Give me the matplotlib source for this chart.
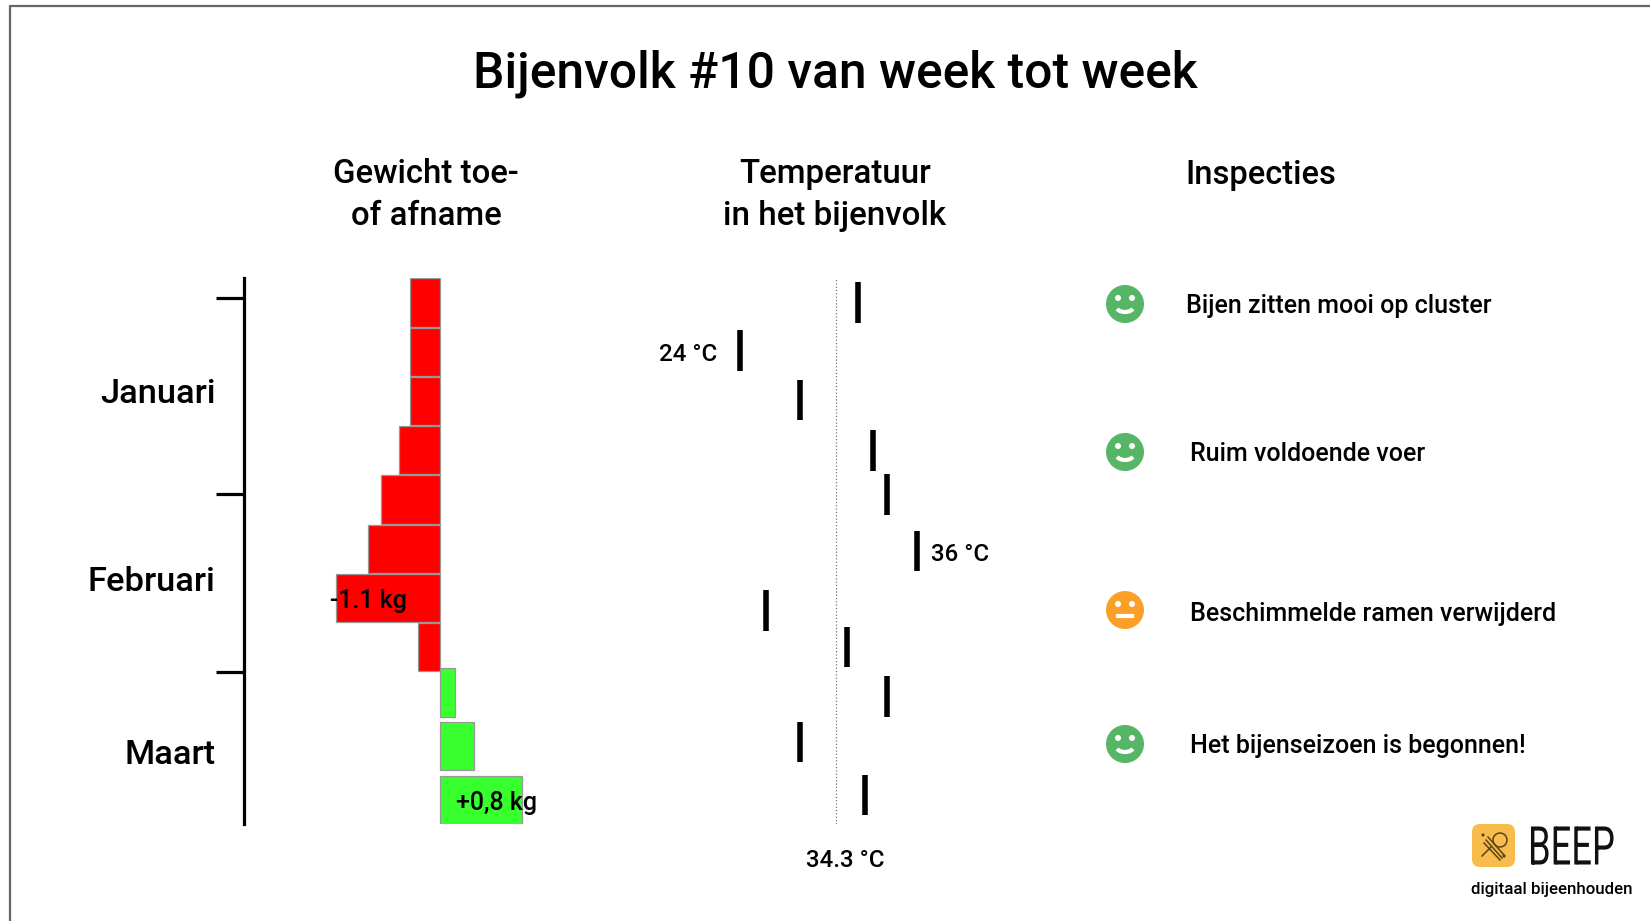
import matplotlib
matplotlib.use("Agg")
import matplotlib.pyplot as plt
from matplotlib.patches import Circle, Arc, FancyBboxPatch
from matplotlib.patheffects import AbstractPathEffect
from matplotlib.transforms import Affine2D

plt.rcParams['font.family'] = ['Roboto', 'DejaVu Sans']

W, H = 1650, 921

# gewicht per week (kg)
weight_rows = [0, 1, 2, 3, 4, 5, 6, 7, 7.92, 9.0, 10.1]
weight_kg = [-0.31, -0.31, -0.31, -0.43, -0.62, -0.76, -1.1, -0.23, 0.16, 0.36, 0.87]

# temperatuur per week (graden)
temp_rows = [0, 0.97, 1.98, 3.0, 3.9, 5.05, 6.25, 7.0, 8.0, 8.92, 10.0]
temp_c = [32.0, 24.0, 28.07, 33.0, 34.0, 36.0, 25.8, 31.25, 34.0, 28.07, 32.5]
temp_mid = 30.5

months = ['Januari', 'Februari', 'Maart']
month_rows = [1.78, 5.61, 9.11]
month_edges = [-0.1, 3.88, 7.51]

inspections = ['Bijen zitten mooi op cluster', 'Ruim voldoende voer',
               'Beschimmelde ramen verwijderd', 'Het bijenseizoen is begonnen!']
moods = ['good', 'good', 'ok', 'good']
smiley_y = [304, 452, 610, 744]
insp_y = [305.5, 453.5, 613.5, 745.5]
insp_x = [1186, 1190, 1190, 1190]


class Squeeze(AbstractPathEffect):
    # smaller maken van de tekst rond het midden, voor het BEEP logo
    def __init__(self, sx):
        super().__init__()
        self.sx = sx

    def draw_path(self, renderer, gc, tpath, affine, rgbFace=None):
        box = tpath.get_extents(affine)
        xc = (box.x0 + box.x1) / 2
        t = affine + Affine2D().translate(-xc, 0).scale(self.sx, 1).translate(xc, 0)
        renderer.draw_path(gc, tpath, t, rgbFace)


def axes_px(x0, y0, x1, y1):
    return fig.add_axes([x0 / W, 1 - y1 / H, (x1 - x0) / W, (y1 - y0) / H])


fig = plt.figure(figsize=(W / 100, H / 100), dpi=100, facecolor='white')

# overlay in pixels voor titels, smileys en logo
bg = fig.add_axes([0, 0, 1, 1])
bg.set_xlim(0, W)
bg.set_ylim(H, 0)
bg.axis('off')
bg.plot([9.5, 9.5, W], [H, 6, 6], color='#666666', lw=1.6)

bg.text(835, 74, 'Bijenvolk #10 van week tot week', fontsize=35.8, fontweight='medium',
        ha='center', va='center', color='black')
bg.text(426, 195, 'Gewicht toe-\nof afname', fontsize=23.7, ha='center', va='center',
        linespacing=1.38, fontweight='medium')
bg.text(835, 195, 'Temperatuur\nin het bijenvolk', fontsize=23.9, ha='center', va='center',
        linespacing=1.38, fontweight='medium')
bg.text(1185, 175, 'Inspecties', fontsize=23.5, ha='left', va='center', fontweight='medium')

for label, mood, y, ty, x in zip(inspections, moods, smiley_y, insp_y, insp_x):
    col = '#57B665' if mood == 'good' else '#FAA027'
    bg.add_patch(Circle((1125, y), 19, color=col, lw=0))
    bg.add_patch(Circle((1118, y - 6), 3, color='white', lw=0))
    bg.add_patch(Circle((1132, y - 6), 3, color='white', lw=0))
    if mood == 'good':
        bg.add_patch(Arc((1125, y + 2), 18, 12, theta1=20, theta2=160, color='white', lw=3))
    else:
        bg.plot([1118, 1132], [y + 6, y + 6], color='white', lw=3)
    bg.text(x, ty, label, fontsize=18, ha='left', va='center', fontweight='medium')

# logo
brown = '#5A4518'
bg.add_patch(FancyBboxPatch((1472, 824), 43, 43, boxstyle='round,pad=0,rounding_size=8',
                            color='#F7BC4B', lw=0))
bg.add_patch(Circle((1500, 840), 7, fill=False, ec=brown, lw=1.1))
bg.plot([1484, 1500], [843, 860], color=brown, lw=1.1)
bg.plot([1486, 1502], [840, 858], color=brown, lw=1.1)
bg.plot([1488, 1504], [837, 855], color=brown, lw=1.1)
bg.plot([1482, 1491], [856, 847], color=brown, lw=1.1)
bg.add_patch(Circle((1483, 835), 1.6, color=brown, lw=0))
bg.add_patch(Circle((1504, 856), 1.6, color=brown, lw=0))
bg.text(1571, 850, 'BEEP', fontsize=38.5, ha='center', va='center', fontweight='normal',
        color='#111111', path_effects=[Squeeze(0.68)])
bg.text(1471, 889, 'digitaal bijeenhouden', fontsize=12.2, ha='left', va='center', fontweight='medium')

# gewicht, linkerkant as is de maandenas
ax = axes_px(244, 278, 600, 824)
ax.patch.set_alpha(0)
ax.barh(weight_rows, weight_kg, height=0.98, left=0,
        color=['#FF0000' if v < 0 else '#38FF2E' for v in weight_kg],
        edgecolor='#999999', linewidth=0.9)
ax.set_xlim(-(439.5 - 244) / 94.5, (600 - 439.5) / 94.5)
ax.set_ylim(10.59, -0.5)
for s in ['top', 'right', 'bottom']:
    ax.spines[s].set_visible(False)
ax.spines['left'].set_linewidth(2.3)
ax.set_xticks([])
ax.set_yticks(month_edges)
ax.set_yticklabels([])
ax.tick_params(axis='y', which='major', length=20, width=2.3)
ax.set_yticks(month_rows, minor=True)
ax.set_yticklabels(months, minor=True, fontsize=24.8, fontweight='medium')
ax.tick_params(axis='y', which='minor', length=0, pad=20.5)

ax.annotate('-1.1 kg', (weight_kg[6], weight_rows[6]), xytext=(-4, -2), textcoords='offset points',
            fontsize=18, ha='left', va='center', fontweight='medium')
ax.annotate('+0,8 kg', (weight_kg[10], weight_rows[10]), xytext=(11, -2), textcoords='offset points',
            fontsize=18, ha='right', va='center', fontweight='medium')

# temperatuur
ax2 = axes_px(666, 278, 961, 824)
ax2.patch.set_alpha(0)
ax2.axis('off')
ax2.set_xlim(19, 39)
ax2.set_ylim(10.59, -0.5)
ax2.axvline(temp_mid, color='#777777', lw=0.9, ls=':')
ax2.vlines(temp_c, [r - 0.41 for r in temp_rows], [r + 0.41 for r in temp_rows], color='black', lw=4)
ax2.annotate('24 °C', (temp_c[1], temp_rows[1]), xytext=(-16, -3), textcoords='offset points',
             fontsize=17.3, ha='right', va='center', fontweight='medium', annotation_clip=False)
ax2.annotate('36 °C', (temp_c[5], temp_rows[5]), xytext=(10, -2.5), textcoords='offset points',
             fontsize=17.3, ha='left', va='center', fontweight='medium', annotation_clip=False)
bg.text(845, 860, '34.3 °C', fontsize=17.3, ha='center', va='center', fontweight='medium')

plt.savefig('out.png', dpi=100)
